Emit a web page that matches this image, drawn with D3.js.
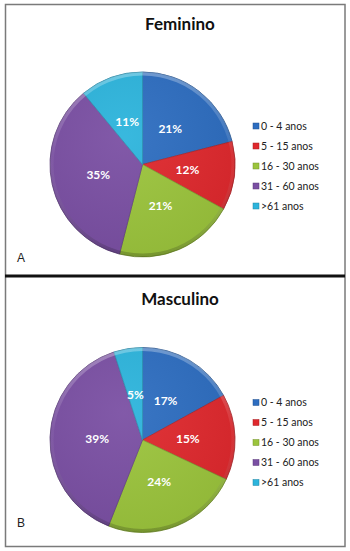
<!DOCTYPE html>
<html>
<head>
<meta charset="utf-8">
<script src="https://cdn.jsdelivr.net/npm/d3@7"></script>
<style>
  html, body { margin: 0; padding: 0; background: #fff; }
  svg { display: block; }
</style>
</head>
<body>
<svg id="chart" width="350" height="551"></svg>
<script>
// Age groups and their shares (%) for each sex
const categories = ["0 - 4 anos", "5 - 15 anos", "16 - 30 anos", "31 - 60 anos", ">61 anos"];
const femininoValues = [21, 12, 21, 35, 11];
const masculinoValues = [17, 15, 24, 39, 5];
const panelTitles = ["Feminino", "Masculino"];
const panelLetters = ["A", "B"];
const sliceColors = ["#2d6dc0", "#df282d", "#9bc43c", "#7a4fa3", "#2cb4dc"];

const svg = d3.select("#chart");
const font = "Lato, 'Open Sans', sans-serif";

const color = d3.scaleOrdinal().domain(categories).range(sliceColors);

const radius = 92.5;

// Shared defs: rim shading for the bevelled look (spans the whole pie)
const defs = svg.append("defs");
const rim = defs.append("linearGradient").attr("id", "rim")
  .attr("gradientUnits", "userSpaceOnUse")
  .attr("x1", 0).attr("y1", -radius).attr("x2", 0).attr("y2", radius);
rim.append("stop").attr("offset", "0%").attr("stop-color", "#fff").attr("stop-opacity", 0.3);
rim.append("stop").attr("offset", "45%").attr("stop-color", "#fff").attr("stop-opacity", 0.05);
rim.append("stop").attr("offset", "100%").attr("stop-color", "#000").attr("stop-opacity", 0.2);

const shade = defs.append("radialGradient").attr("id", "shade")
  .attr("cx", "40%").attr("cy", "35%").attr("r", "70%");
shade.append("stop").attr("offset", "0%").attr("stop-color", "#fff").attr("stop-opacity", 0.06);
shade.append("stop").attr("offset", "100%").attr("stop-color", "#000").attr("stop-opacity", 0.06);

const panels = [
  { values: femininoValues, top: 0 },
  { values: masculinoValues, top: 276 }
];

const pie = d3.pie().sort(null).value(d => d.value);
const arc = d3.arc().innerRadius(0).outerRadius(radius);
const rimArc = d3.arc().innerRadius(radius - 3.5).outerRadius(radius);
const labelArc = d3.arc().innerRadius(radius * 0.49).outerRadius(radius * 0.49);

panels.forEach((p, i) => {
  const g = svg.append("g").attr("transform", `translate(0,${p.top})`);
  const data = categories.map((c, k) => ({ cat: c, value: p.values[k] }));
  const arcs = pie(data);

  // Title
  g.append("text")
    .attr("x", 180).attr("y", i === 0 ? 30 : 29)
    .attr("text-anchor", "middle")
    .attr("font-family", font).attr("font-weight", "bold")
    .attr("font-size", 17).attr("fill", "#111")
    .text(panelTitles[i]);

  // Pie
  const pg = g.append("g").attr("transform", `translate(142.5,${i === 0 ? 164.5 : 164})`);
  pg.selectAll("path.slice").data(arcs).join("path")
    .attr("class", "slice")
    .attr("d", arc)
    .attr("fill", d => color(d.data.cat))
    .attr("stroke", d => d3.color(color(d.data.cat)).darker(0.6))
    .attr("stroke-width", 0.8);
  pg.append("circle").attr("r", radius).attr("fill", "url(#shade)");
  pg.append("path").attr("d", rimArc({ startAngle: 0, endAngle: 2 * Math.PI }))
    .attr("fill", "url(#rim)");
  pg.append("circle").attr("r", radius).attr("fill", "none")
    .attr("stroke", "#000").attr("stroke-opacity", 0.15).attr("stroke-width", 0.6);

  // Percentage labels
  pg.selectAll("text.pct").data(arcs).join("text")
    .attr("class", "pct")
    .attr("transform", d => `translate(${labelArc.centroid(d)})`)
    .attr("text-anchor", "middle").attr("dy", "0.35em")
    .attr("font-family", font).attr("font-weight", "bold")
    .attr("font-size", 12).attr("fill", "#fff")
    .text(d => d.data.value + "%");

  // Legend
  const lg = g.append("g").attr("transform", "translate(253,0)");
  const rowY = d3.scalePoint().domain(categories).range([126, 206]);
  const items = lg.selectAll("g.item").data(categories).join("g")
    .attr("class", "item")
    .attr("transform", c => `translate(0,${rowY(c) + (i === 0 ? 0 : 0.5)})`);
  items.append("rect")
    .attr("x", 0).attr("y", -3).attr("width", 6).attr("height", 6)
    .attr("fill", c => color(c))
    .attr("stroke", c => d3.color(color(c)).darker(0.8)).attr("stroke-width", 0.5);
  items.append("text")
    .attr("x", 8).attr("dy", "0.36em")
    .attr("font-family", font).attr("font-size", 10.5).attr("fill", "#222")
    .text(c => c);

  // Panel letter
  g.append("text")
    .attr("x", 17).attr("y", i === 0 ? 262 : 251)
    .attr("font-family", "'Liberation Sans', Arial, sans-serif")
    .attr("font-size", 12).attr("fill", "#222")
    .text(panelLetters[i]);
});

// Frame and divider
svg.append("rect")
  .attr("x", 5.5).attr("y", 4.5).attr("width", 339.5).attr("height", 542)
  .attr("fill", "none").attr("stroke", "#7a7a7a").attr("stroke-width", 1.5);
svg.append("line")
  .attr("x1", 5).attr("x2", 345).attr("y1", 276).attr("y2", 276)
  .attr("stroke", "#111").attr("stroke-width", 3);
</script>
</body>
</html>
